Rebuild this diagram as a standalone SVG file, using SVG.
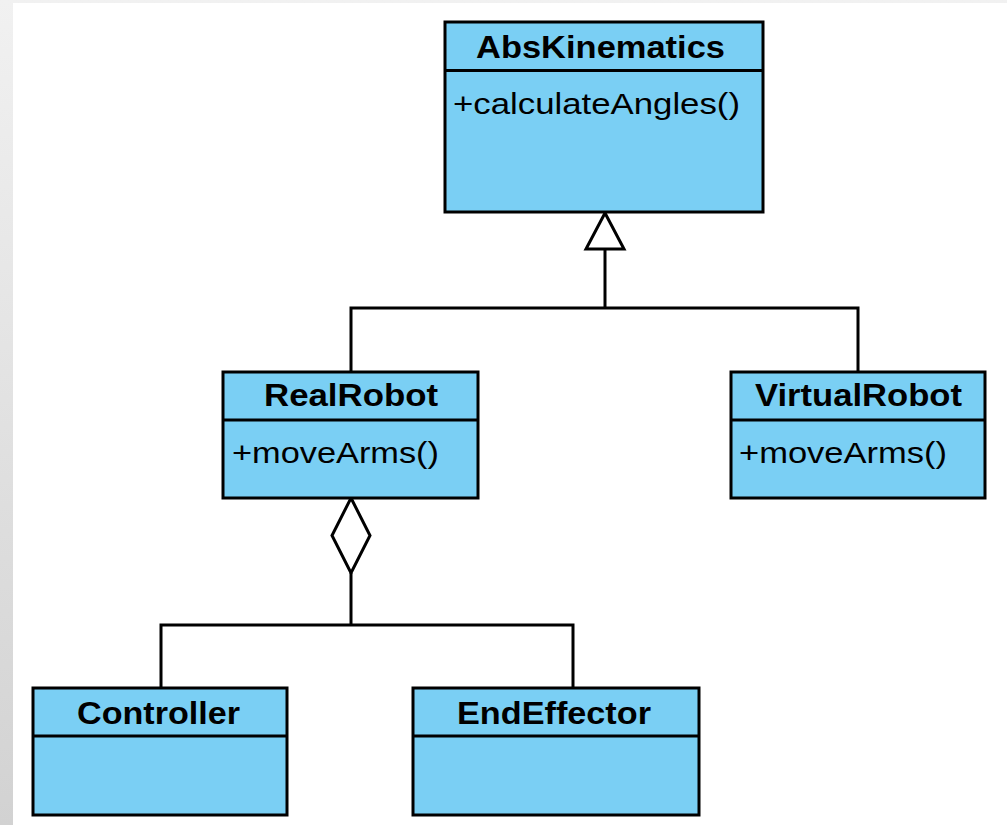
<svg xmlns="http://www.w3.org/2000/svg" width="1007" height="825" viewBox="0 0 1007 825">
  <defs>
    <linearGradient id="bg" x1="0" y1="0" x2="0" y2="1">
      <stop offset="0" stop-color="#f1f1f1"/>
      <stop offset="1" stop-color="#d2d2d2"/>
    </linearGradient>
  </defs>
  <style>
    .box { fill: #7acff4; stroke: #000; stroke-width: 3; }
    .div { stroke: #000; stroke-width: 3; fill: none; }
    .line { stroke: #000; stroke-width: 3; fill: none; }
    .head { stroke: #000; stroke-width: 3; fill: #fff; stroke-linejoin: miter; }
    .title { font-family: "Liberation Sans", Arial, sans-serif; font-weight: bold; font-size: 31px; fill: #000; }
    .member { font-family: "Liberation Sans", Arial, sans-serif; font-size: 30px; fill: #000; }
  </style>
  <rect x="0" y="0" width="1007" height="825" fill="url(#bg)"/>
  <rect x="13" y="3" width="994" height="822" fill="#fff"/>

  <g id="connectors">
    <polyline class="line" points="605,249 605,308"/>
    <polyline class="line" points="351,372 351,308 858,308 858,372"/>
    <polygon class="head" points="605,213 624,249 586,249"/>
    <polyline class="line" points="351,573 351,625"/>
    <polyline class="line" points="161,688 161,625 573,625 573,688"/>
    <polygon class="head" points="351,498 370,535.5 351,573 332,535.5"/>
  </g>

  <g id="AbsKinematics">
    <rect class="box" x="445" y="22" width="318" height="190"/>
    <line class="div" x1="445" y1="70.5" x2="763" y2="70.5"/>
    <text class="title" x="476" y="58" textLength="249" lengthAdjust="spacingAndGlyphs">AbsKinematics</text>
    <text class="member" x="453" y="114" textLength="287" lengthAdjust="spacingAndGlyphs">+calculateAngles()</text>
  </g>

  <g id="RealRobot">
    <rect class="box" x="223" y="372" width="255" height="126"/>
    <line class="div" x1="223" y1="420" x2="478" y2="420"/>
    <text class="title" x="264" y="406" textLength="174" lengthAdjust="spacingAndGlyphs">RealRobot</text>
    <text class="member" x="232" y="463" textLength="207" lengthAdjust="spacingAndGlyphs">+moveArms()</text>
  </g>

  <g id="VirtualRobot">
    <rect class="box" x="731" y="372" width="254" height="126"/>
    <line class="div" x1="731" y1="420" x2="985" y2="420"/>
    <text class="title" x="755" y="406" textLength="207" lengthAdjust="spacingAndGlyphs">VirtualRobot</text>
    <text class="member" x="739" y="463" textLength="208" lengthAdjust="spacingAndGlyphs">+moveArms()</text>
  </g>

  <g id="Controller">
    <rect class="box" x="33" y="688" width="254" height="127"/>
    <line class="div" x1="33" y1="736" x2="287" y2="736"/>
    <text class="title" x="77" y="724" textLength="163" lengthAdjust="spacingAndGlyphs">Controller</text>
  </g>

  <g id="EndEffector">
    <rect class="box" x="413" y="688" width="286" height="127"/>
    <line class="div" x1="413" y1="736" x2="699" y2="736"/>
    <text class="title" x="457" y="724" textLength="194" lengthAdjust="spacingAndGlyphs">EndEffector</text>
  </g>
</svg>
